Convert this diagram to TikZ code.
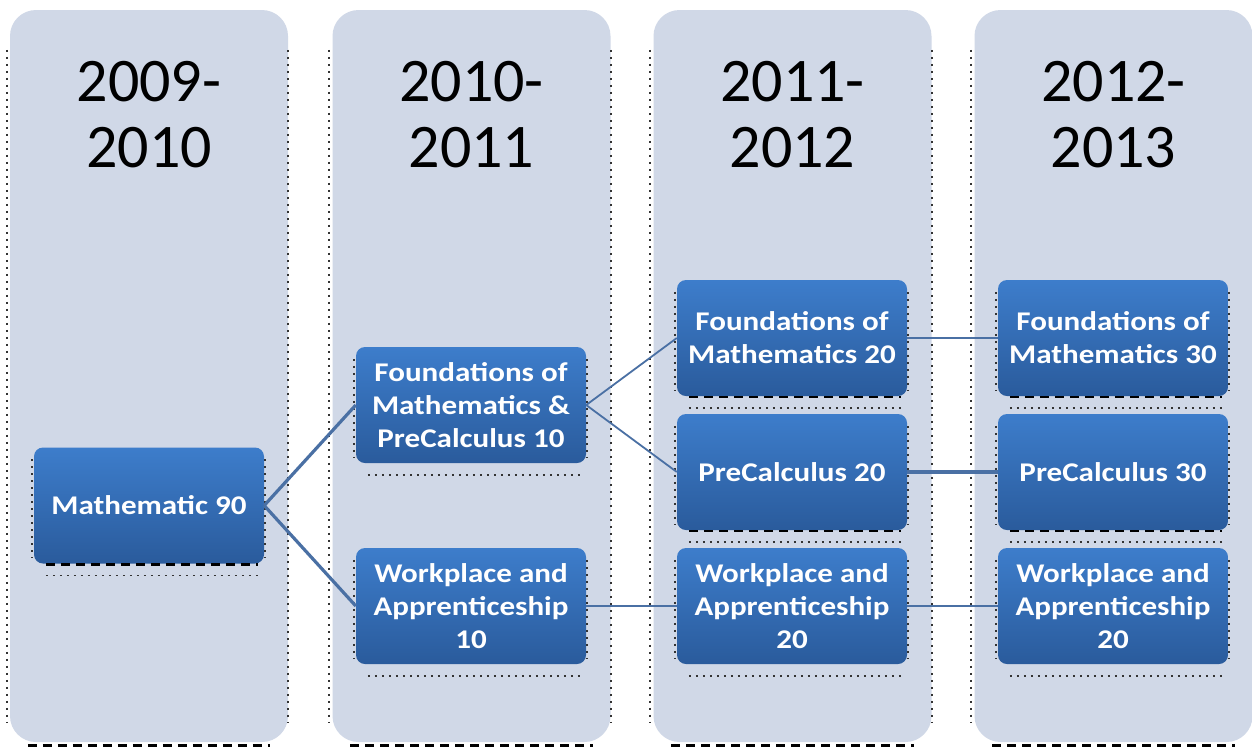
\documentclass[tikz,border=0pt]{standalone}
\usepackage{fontspec}
\setmainfont{Carlito}
\newfontfamily\boxfont[FakeStretch=1.15]{Carlito}
\usetikzlibrary{shadings}
\definecolor{colbg}{HTML}{D0D8E7}
\definecolor{boxtop}{HTML}{3D7DCB}
\definecolor{boxbot}{HTML}{2A5B9C}
\definecolor{conn}{HTML}{4A70A4}
\tikzset{
  colbox/.style={fill=colbg, rounded corners=26pt, minimum width=278pt, minimum height=732pt, inner sep=0pt},
  yeartitle/.style={align=center, font=\fontsize{62}{66}\selectfont, text=black},
  course/.style={rounded corners=9pt, top color=boxtop, bottom color=boxbot, minimum width=230pt, minimum height=116pt, inner sep=0pt, align=center, text=white, font=\boxfont\bfseries\fontsize{27}{33}\selectfont},
  link/.style={draw=conn, line width=3.2pt},
  thinlink/.style={draw=conn, line width=1.8pt},
  dots/.style={draw=black!80, line width=2pt, dash pattern=on 2pt off 5pt},
  dashes/.style={draw=black, line width=3pt, dash pattern=on 9pt off 6pt},
}
\begin{document}
\begin{tikzpicture}[x=1pt, y=-1pt]
\useasboundingbox (0,0) rectangle (1252,748);
\fill[white] (0,0) rectangle (1252,748);
% columns
\node[colbox] (col1) at (149,376) {};
\node[colbox] (col2) at (471.5,376) {};
\node[colbox] (col3) at (792.5,376) {};
\node[colbox] (col4) at (1113.5,376) {};
% column artifacts
\foreach \c in {col1,col2,col3,col4}{
  \draw[dots] ([xshift=-3pt,yshift=-40pt]\c.north west) -- ([xshift=-3pt,yshift=20pt]\c.south west);
  \draw[dots] ([xshift=0pt,yshift=-40pt]\c.north east) -- ([xshift=0pt,yshift=20pt]\c.south east);
  \draw[dashes] ([xshift=18pt,yshift=-3pt]\c.south west) -- ([xshift=-18pt,yshift=-3pt]\c.south east);
}
% titles
\node[yeartitle] (t1) at (149,115) {2009-\\2010};
\node[yeartitle] (t2) at (471.5,115) {2010-\\2011};
\node[yeartitle] (t3) at (792.5,115) {2011-\\2012};
\node[yeartitle] (t4) at (1113.5,115) {2012-\\2013};
% course boxes
\node[course] (m90) at (149,505.5) {Mathematic 90};
\node[course] (f10) at (471,405) {Foundations of\\Mathematics \&\\PreCalculus 10};
\node[course] (w10) at (471,606) {Workplace and\\Apprenticeship\\10};
\node[course] (f20) at (792,338) {Foundations of\\Mathematics 20};
\node[course] (p20) at (792,472) {PreCalculus 20};
\node[course] (w20) at (792,606) {Workplace and\\Apprenticeship\\20};
\node[course] (f30) at (1113,338) {Foundations of\\Mathematics 30};
\node[course] (p30) at (1113,472) {PreCalculus 30};
\node[course] (w30) at (1113,606) {Workplace and\\Apprenticeship\\20};
% box artifacts
\foreach \b in {m90,f10,w10,f20,p20,w20,f30,p30,w30}{
  \draw[dots, line width=1.5pt] ([xshift=-2pt,yshift=-12pt]\b.north west) -- ([xshift=-2pt,yshift=6pt]\b.south west);
  \draw[dots, line width=1.5pt] ([xshift=1pt,yshift=-12pt]\b.north east) -- ([xshift=1pt,yshift=6pt]\b.south east);
  \draw[dots, line width=1.5pt] ([xshift=12pt,yshift=-12pt]\b.south west) -- ([xshift=-6pt,yshift=-12pt]\b.south east);
}
\foreach \b in {m90,f20,p20,f30,p30}{
  \draw[dashes, line width=2.5pt] ([xshift=12pt,yshift=-1pt]\b.south west) -- ([xshift=-6pt,yshift=-1pt]\b.south east);
}
% connectors
\draw[link] (m90.east) -- (f10.west);
\draw[link] (m90.east) -- (w10.west);
\draw[thinlink] (f10.east) -- (f20.west);
\draw[thinlink] (f10.east) -- (p20.west);
\draw[link, line width=2.6pt] (w10.east) -- (w20.west);
\draw[link, line width=2.6pt] (f20.east) -- (f30.west);
\draw[link, line width=3.6pt] (p20.east) -- (p30.west);
\draw[link, line width=2.6pt] (w20.east) -- (w30.west);
\end{tikzpicture}
\end{document}
